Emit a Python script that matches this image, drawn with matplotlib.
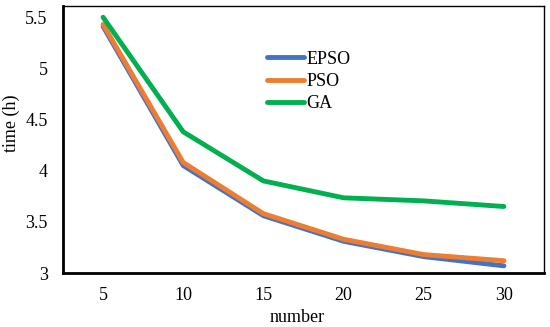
import matplotlib
matplotlib.use("Agg")
import matplotlib.pyplot as plt

# --- data ---
numbers = ["5", "10", "15", "20", "25", "30"]
epso = [5.41, 4.05, 3.56, 3.31, 3.16, 3.07]
pso = [5.43, 4.08, 3.58, 3.33, 3.18, 3.12]
ga = [5.50, 4.38, 3.90, 3.735, 3.705, 3.65]

plt.rcParams['font.family'] = ['Liberation Serif', 'DejaVu Serif']
plt.rcParams['font.size'] = 13

fig = plt.figure(figsize=(5.5, 3.27), dpi=100)
ax = fig.add_axes([63 / 550, 1 - 273 / 327, 481 / 550, 267 / 327])

x = range(len(numbers))
ax.plot(x, epso, color='#4472C4', lw=3.5, label='EPSO', solid_capstyle='round')
ax.plot(x, pso, color='#ED7D31', lw=3.5, label='PSO', solid_capstyle='round')
ax.plot(x, ga, color='#00B050', lw=3.5, label='GA', solid_capstyle='round')

ax.set_xticks(list(x))
ax.set_xticklabels(numbers)
ax.set_xlim(-0.5, len(numbers) - 0.5)
ax.set_ylim(3, 5.61)
ax.set_yticks([3, 3.5, 4, 4.5, 5, 5.5])
ax.set_yticklabels(["3", "3.5", "4", "4.5", "5", "5.5"])
ax.tick_params(axis='x', length=0, pad=10)
ax.tick_params(axis='y', length=0, pad=11)

for side in ['left', 'bottom']:
    ax.spines[side].set_linewidth(2)
for side in ['top', 'right']:
    ax.spines[side].set_linewidth(1)

# axis titles placed where the reference has them
fig.text(11 / 550, 1 - 123 / 327, "time (h)", rotation=90, ha='center', va='center')
fig.text(297 / 550, 1 - 317 / 327, "number", ha='center', va='center')

ax.legend(loc='upper left', bbox_to_anchor=(0.41, 0.86), frameon=False,
          handlelength=2.0, handletextpad=0.15, labelspacing=0.3,
          borderaxespad=0)

fig.savefig("out.png", dpi=100)
